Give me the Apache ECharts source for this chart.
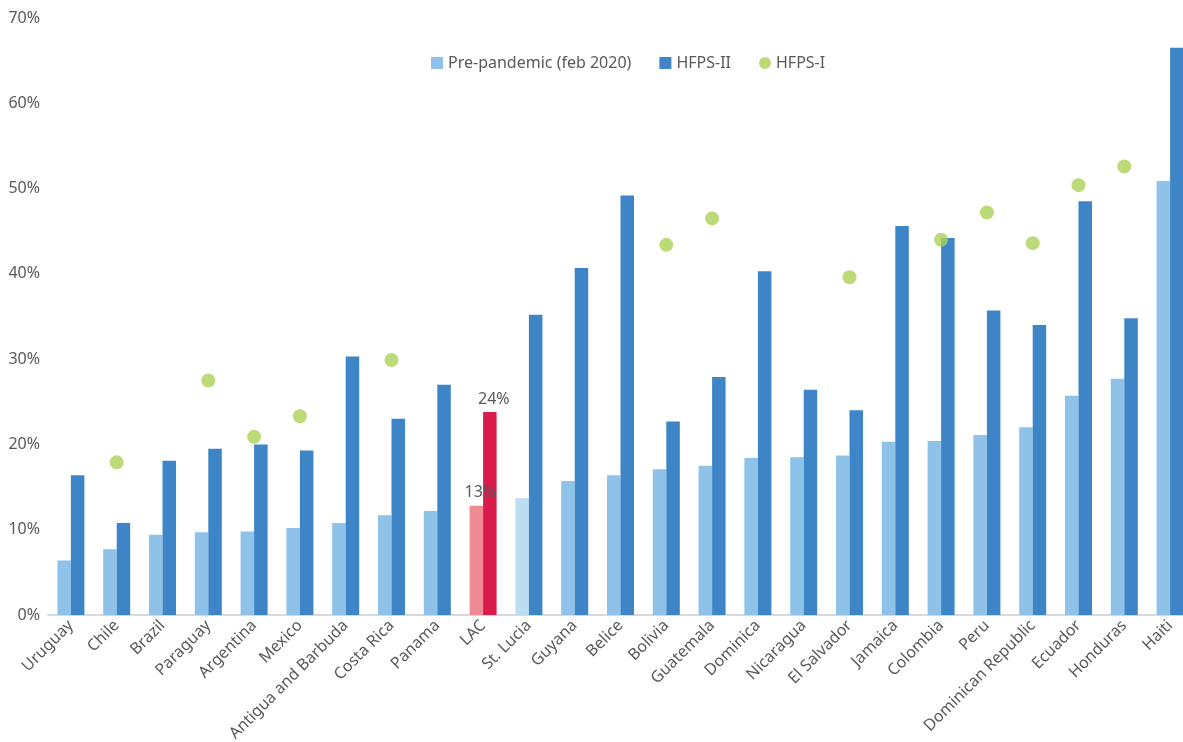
<!DOCTYPE html>
<html>
<head>
<meta charset="utf-8">
<script src="https://cdn.jsdelivr.net/npm/echarts@6/dist/echarts.min.js"></script>
<style>
html,body{margin:0;padding:0;background:#fff;}
#chart{width:1183px;height:742px;}
</style>
</head>
<body>
<div id="chart"></div>
<script>
const categories = ["Uruguay","Chile","Brazil","Paraguay","Argentina","Mexico","Antigua and Barbuda","Costa Rica","Panama","LAC","St. Lucia","Guyana","Belice","Bolivia","Guatemala","Dominica","Nicaragua","El Salvador","Jamaica","Colombia","Peru","Dominican Republic","Ecuador","Honduras","Haiti"];
const prePandemic = [6.4,7.7,9.4,9.7,9.8,10.2,10.8,11.7,12.2,12.8,13.7,15.7,16.4,17.1,17.5,18.4,18.5,18.7,20.3,20.4,21.1,22.0,25.7,27.7,50.9];
const hfps2 = [16.4,10.8,18.1,19.5,20.0,19.3,30.3,23.0,27.0,23.8,35.2,40.7,49.2,22.7,27.9,40.3,26.4,24.0,45.6,44.2,35.7,34.0,48.5,34.8,66.5];
const hfps1 = [null,17.9,null,27.5,20.9,23.3,null,29.9,null,null,null,null,null,43.4,46.5,null,null,39.6,null,44.0,47.2,43.6,50.4,52.6,null];
const yTicks = [0,10,20,30,40,50,60,70];
const lacLabels = {pre:"13%", hfps2:"24%"};

const C_PRE = "#8EC2E9", C_II = "#3E85C7", C_I = "#ABD155";
const C_LAC_PRE = "#F08A95", C_LAC_II = "#D81B4A", C_STL = "#BCDCF2";
const TXT = "#595959";
const FONT = "Noto Sans";

const preData = prePandemic.map((v,i)=>{
  const c = categories[i];
  if (c === "LAC") return {value:v, itemStyle:{color:C_LAC_PRE}, label:{show:true, position:"top", formatter:lacLabels.pre, color:TXT, fontSize:16, fontFamily:FONT, offset:[4,0]}};
  if (c === "St. Lucia") return {value:v, itemStyle:{color:C_STL}};
  return v;
});
const iiData = hfps2.map((v,i)=>{
  if (categories[i] === "LAC") return {value:v, itemStyle:{color:C_LAC_II}, label:{show:true, position:"top", formatter:lacLabels.hfps2, color:TXT, fontSize:16, fontFamily:FONT, offset:[4,0]}};
  return v;
});

const chart = echarts.init(document.getElementById('chart'), null, {renderer:'canvas'});
chart.setOption({
  animation:false,
  backgroundColor:"#fff",
  textStyle:{fontFamily:FONT},
  legend:{
    top:50, left:426,
    itemWidth:12, itemHeight:12, itemGap:28,
    textStyle:{color:TXT, fontSize:16, fontFamily:FONT},
    data:[
      {name:"Pre-pandemic (feb 2020)", icon:"rect"},
      {name:"HFPS-II", icon:"rect"},
      {name:"HFPS-I", icon:"circle"}
    ]
  },
  grid:{left:48, top:18, width:1145, bottom:127, containLabel:false, outerBoundsMode:"none"},
  xAxis:{
    type:"category",
    data:categories,
    axisLine:{lineStyle:{color:"#D9D9D9", width:2}},
    axisTick:{show:false},
    axisLabel:{rotate:45, color:TXT, fontSize:16, fontFamily:FONT, interval:0, margin:8}
  },
  yAxis:{
    type:"value",
    min:0, max:70, interval:10,
    splitLine:{show:false},
    axisLine:{show:false},
    axisTick:{show:false},
    axisLabel:{formatter:"{value}%", color:TXT, fontSize:16, fontFamily:FONT, margin:8}
  },
  series:[
    {name:"Pre-pandemic (feb 2020)", type:"bar", data:preData, barWidth:13.5, barGap:"0%", itemStyle:{color:C_PRE}},
    {name:"HFPS-II", type:"bar", data:iiData, barWidth:13.5, barGap:"0%", itemStyle:{color:C_II}},
    {name:"HFPS-I", type:"scatter", data:hfps1, symbol:"circle", symbolSize:14, itemStyle:{color:C_I}}
  ]
});
</script>
</body>
</html>
